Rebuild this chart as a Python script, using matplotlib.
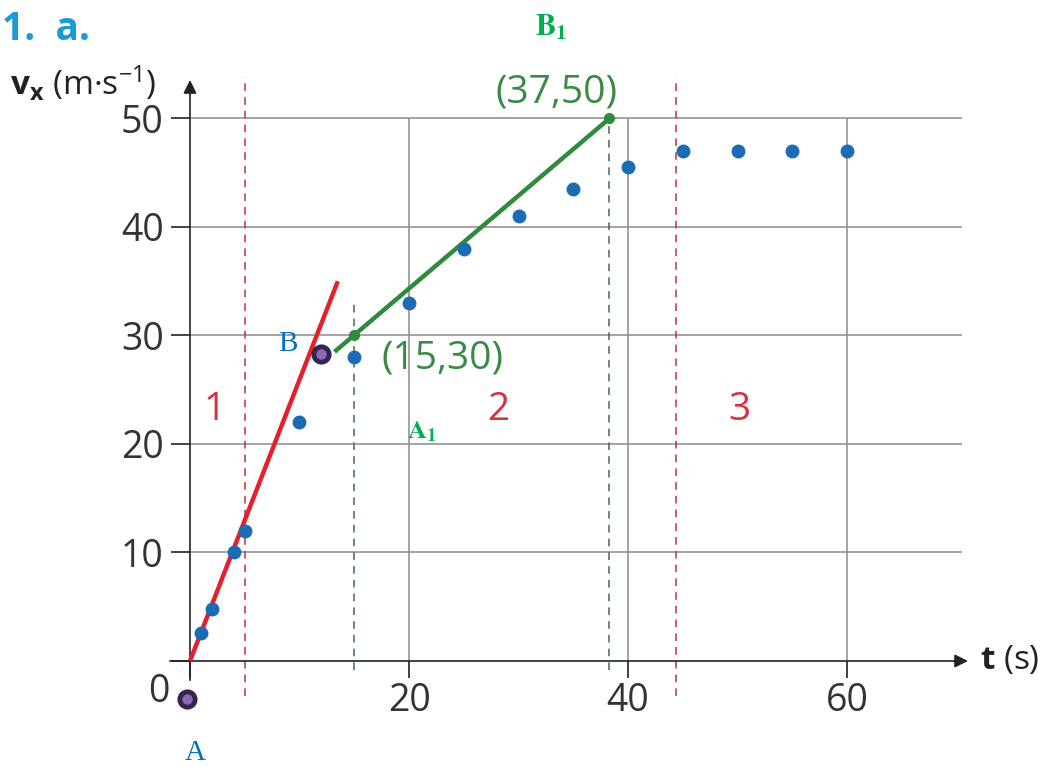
import matplotlib
matplotlib.use('Agg')
import matplotlib.pyplot as plt

plt.rcParams['font.family'] = ['Open Sans', 'DejaVu Sans']
plt.rcParams['mathtext.fontset'] = 'custom'
plt.rcParams['mathtext.rm'] = 'Open Sans'
plt.rcParams['mathtext.bf'] = 'Open Sans:bold'
plt.rcParams['mathtext.it'] = 'Open Sans:italic'

# measured points v_x(t)
t = [1, 2, 4, 5, 10, 15, 20, 25, 30, 35, 40, 45, 50, 55, 60]
vx = [2.6, 4.8, 10, 12, 22, 28, 33, 38, 41, 43.5, 45.5, 47, 47, 47, 47]

# phase 1 tangent (red) and phase 2 fit (green)
red_t = [0, 13.5]
red_v = [0, 35]
green_t = [13.2, 38.3]
green_v = [28.5, 50]
green_pts_t = [15, 38.3]
green_pts_v = [30, 50]
green_pts_labels = ['(15,30)', '(37,50)']

# purple markers A and B
purple_t = [-0.25, 12]
purple_v = [-3.5, 28.3]

# phase boundaries
phase_bounds = [5, 44.4]
phase_names = ['1', '2', '3']

xticks = [0, 20, 40, 60]
yticks = [0, 10, 20, 30, 40, 50]

fig = plt.figure(figsize=(10.53, 7.67), dpi=100)
ax = fig.add_axes([0, 0, 1, 1])
ax.set_xlim(-17.35, 78.81)
ax.set_ylim(-9.77, 60.92)
ax.patch.set_visible(False)

grid_c = '#8c8c8c'
ax.hlines(yticks[1:], 0, 70.5, color=grid_c, lw=1.1, zorder=0)
ax.vlines(xticks[1:], 0, yticks[-1], color=grid_c, lw=1.1, zorder=0)

# dashed boundaries
ax.vlines(phase_bounds, -3.2, 53.8, color='#b8324a', lw=1.1,
          linestyles=(0, (5, 4)), zorder=1)
ax.vlines(green_pts_t[0], -0.8, 33.3, color='#3d6e4c', lw=1.1,
          linestyles=(0, (5, 4)), zorder=1)
ax.vlines(green_pts_t[1], -0.8, green_pts_v[1], color='#3d6e4c', lw=1.1,
          linestyles=(0, (5, 4)), zorder=1)

ax.plot(red_t, red_v, color='#e3202e', lw=3.2, solid_capstyle='butt', zorder=3)
ax.plot(green_t, green_v, color='#2f8a3c', lw=3.2, solid_capstyle='butt', zorder=3)
ax.plot(green_pts_t, green_pts_v, 'o', color='#2f8a3c', ms=7, zorder=4)

ax.plot(t, vx, 'o', color='#1b6cb5', ms=9, zorder=5)

ax.plot(purple_t, purple_v, 'o', mfc='#8b6bb5', mec='#35264f', ms=11, mew=3.5,
        zorder=6)

# axes
for side in ['top', 'right']:
    ax.spines[side].set_visible(False)
ax.spines['left'].set_position(('data', 0))
ax.spines['bottom'].set_position(('data', 0))
ax.spines['left'].set_bounds(-1.75, 53)
ax.spines['bottom'].set_bounds(-1.8, 70.5)
for side in ['left', 'bottom']:
    ax.spines[side].set_color('#222222')
    ax.spines[side].set_linewidth(1.2)
ax.annotate('', xy=(71.3, 0), xytext=(69.5, 0),
            arrowprops=dict(arrowstyle='-|>', color='#222222', lw=1.2,
                            mutation_scale=20))
ax.annotate('', xy=(0, 53.8), xytext=(0, 52),
            arrowprops=dict(arrowstyle='-|>', color='#222222', lw=1.2,
                            mutation_scale=20))

ax.set_xticks(xticks)
ax.set_xticklabels([''] + [str(x) for x in xticks[1:]])
ax.set_yticks(yticks)
ax.set_yticklabels([''] + [str(y) for y in yticks[1:]])
ax.tick_params(axis='x', direction='out', length=12, width=1.2,
               color='#222222', labelsize=27, labelcolor='#333333', pad=3)
ax.tick_params(axis='y', direction='out', length=14, width=1.2,
               color='#222222', labelsize=27, labelcolor='#333333', pad=5)
ax.text(-2.83, -2.9, '0', fontsize=27, color='#333333', ha='center', va='center')

# axis labels
fig.text(10 / 1053, 1 - 95 / 767, r'$\mathbf{v_x}$ (m·s$^{-1}$)', fontsize=24,
         color='#222222', ha='left', va='baseline')
ax.text(72.1, 0, r'$\mathbf{t}$ (s)', fontsize=24, color='#222222',
        ha='left', va='center')

fig.text(0.002, 1 - 30 / 767, '1.  a.', fontsize=28, weight='bold',
         color='#1a9ad6', ha='left', va='center')

# phase numbers
for name, x in zip(phase_names, [2.28, 28.1, 50.2]):
    ax.text(x, 23.1, name, fontsize=28, color='#d9303f', ha='center', va='center')

# point labels
ax.text(23.1, 27.9, green_pts_labels[0], fontsize=28,
        color='#3a8a45', ha='center', va='center')
ax.text(33.5, 52.4, green_pts_labels[1], fontsize=28,
        color='#3a8a45', ha='center', va='center')

ax.text(0.46, -8.5, 'A', fontsize=21, color='#0070c0', family='Liberation Serif',
        ha='center', va='center')
ax.text(8.95, 29.2, 'B', fontsize=21, color='#0070c0', family='Liberation Serif',
        ha='center', va='center')
ax.text(21.2, 21.1, r'$\mathbf{A_1}$', fontsize=19, color='#00b050',
        math_fontfamily='stix', ha='center', va='center')
ax.text(33.0, 58.4, r'$\mathbf{B_1}$', fontsize=22, color='#00b050',
        math_fontfamily='stix', ha='center', va='center')

fig.savefig('out.png', dpi=100)
